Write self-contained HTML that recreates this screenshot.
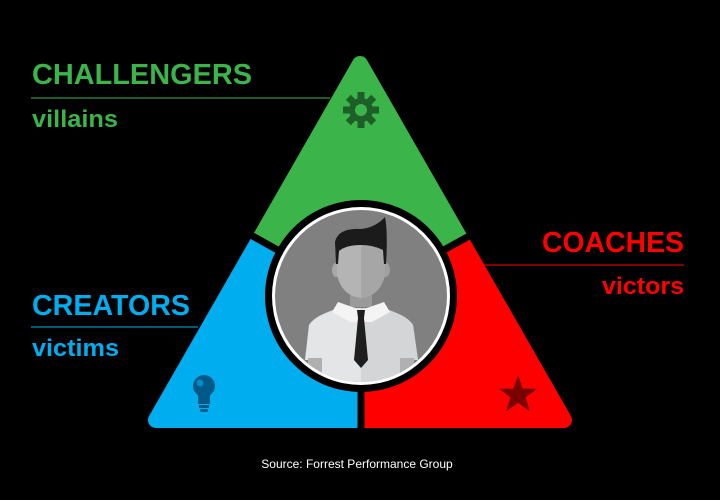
<!DOCTYPE html>
<html><head><style>html,body{margin:0;padding:0;background:#000;}svg{display:block}</style></head>
<body>
<svg width="720" height="500" viewBox="0 0 720 500" xmlns="http://www.w3.org/2000/svg" font-family="Liberation Sans, sans-serif">
<defs>
<clipPath id="cg"><polygon points="360,296 -64,60 -64,-100 784,-100 784,60"/></clipPath>
<clipPath id="cb"><polygon points="360,296 -64,60 -64,600 360,600"/></clipPath>
<clipPath id="cr"><polygon points="360,296 360,600 784,600 784,60"/></clipPath>
<clipPath id="cc"><circle cx="361" cy="296" r="86"/></clipPath>
</defs>
<rect width="720" height="500" fill="#000"/>
<g stroke-linejoin="round" stroke-width="16">
<polygon clip-path="url(#cg)" points="360,64 156,420 564,420" fill="#3bb54a" stroke="#3bb54a"/>
<polygon clip-path="url(#cb)" points="360,64 156,420 564,420" fill="#00aeef" stroke="#00aeef"/>
<polygon clip-path="url(#cr)" points="360,64 156,420 564,420" fill="#ff0000" stroke="#ff0000"/>
</g>
<g stroke="#000" stroke-width="7">
<line x1="360" y1="296" x2="240" y2="229"/>
<line x1="360" y1="296" x2="482" y2="229"/>
<line x1="361" y1="296" x2="361" y2="440"/>
</g>
<circle cx="361" cy="296" r="96" fill="#000"/>
<circle cx="361" cy="296" r="89" fill="#fff"/>
<circle cx="361" cy="296" r="86" fill="#808080"/>
<g clip-path="url(#cc)">
<path d="M309,325 Q315,315 340,308 L382,308 Q407,315 413,325 L418,360 L400,360 L400,400 L322,400 L322,360 L305,360 Z" fill="#e4e5e6"/>
<path d="M361,308 L382,308 Q407,315 413,325 L418,360 L400,360 L400,400 L361,400 Z" fill="#d4d5d6"/>
<rect x="308" y="358" width="14" height="40" fill="#b0b0b0"/>
<rect x="400" y="358" width="14" height="40" fill="#b0b0b0"/>
<path d="M350,285 L372,285 L372,307 L350,307 Z" fill="#9a9a9a"/>
<ellipse cx="336" cy="270" rx="4" ry="7" fill="#a8a8a8"/>
<ellipse cx="386" cy="270" rx="4" ry="7" fill="#a0a0a0"/>
<path d="M337,250 Q337,240 361,240 Q385,240 385,250 L385,275 Q380,296 361,298 Q342,296 337,275 Z" fill="#b4b4b4"/>
<path d="M361,240 Q385,240 385,250 L385,275 Q380,296 361,298 Z" fill="#a6a6a6"/>
<path d="M336,264 L335,242 Q338,228 360,229 Q375,228 385,217 Q388,232 386,264 L384,264 L383,250 Q373,245 361,245 Q346,245 339,251 L338,264 Z" fill="#1b1b1b"/>
<path d="M338,302 L361,310 L384,302 L390,312 L372,322 L350,322 L332,312 Z" fill="#f4f4f4"/>
<path d="M357,310 L365,310 L364,318 L368,360 L361,368 L354,360 L358,318 Z" fill="#1e1e1e"/>
</g>
<!-- gear -->
<g transform="translate(361,110)" fill="#1e5e28">
<circle r="12"/>
<g><rect x="-3.5" y="-18" width="7" height="36"/><rect x="-3.5" y="-18" width="7" height="36" transform="rotate(45)"/><rect x="-3.5" y="-18" width="7" height="36" transform="rotate(90)"/><rect x="-3.5" y="-18" width="7" height="36" transform="rotate(135)"/></g>
<circle r="6" fill="#3bb54a"/>
</g>
<!-- bulb -->
<g fill="#005a87">
<circle cx="204" cy="386" r="11"/>
<rect x="198" y="392" width="12" height="12"/>
<rect x="199" y="405" width="10" height="3"/>
<rect x="200" y="409" width="8" height="3" rx="1.5"/>
</g>
<circle cx="200" cy="383" r="3.5" fill="#00aeef" opacity="0.6"/>
<!-- star -->
<polygon transform="translate(518,395)" fill="#7a0000" points="0,-20 4.7,-6.5 19,-6.2 7.6,2.5 11.8,16.2 0,8 -11.8,16.2 -7.6,2.5 -19,-6.2 -4.7,-6.5"/>
<!-- labels -->
<text x="32" y="84" font-size="29" font-weight="bold" fill="#3bb54a" textLength="220" lengthAdjust="spacingAndGlyphs">CHALLENGERS</text>
<rect x="31" y="97.5" width="299" height="1" fill="#3bb54a"/>
<text x="32" y="127" font-size="24" font-weight="bold" fill="#3bb54a" textLength="86" lengthAdjust="spacingAndGlyphs">villains</text>
<text x="684" y="252" font-size="29" font-weight="bold" fill="#ff0000" text-anchor="end" textLength="142" lengthAdjust="spacingAndGlyphs">COACHES</text>
<rect x="480" y="264.5" width="204" height="1" fill="#ff0000"/>
<text x="684" y="294" font-size="24" font-weight="bold" fill="#ff0000" text-anchor="end" textLength="82" lengthAdjust="spacingAndGlyphs">victors</text>
<text x="32" y="315" font-size="29" font-weight="bold" fill="#00aeef" textLength="158" lengthAdjust="spacingAndGlyphs">CREATORS</text>
<rect x="31" y="326.5" width="167" height="1" fill="#00aeef"/>
<text x="32" y="356" font-size="24" font-weight="bold" fill="#00aeef" textLength="87" lengthAdjust="spacingAndGlyphs">victims</text>
<text x="357" y="468" font-size="12" fill="#fff" text-anchor="middle">Source: Forrest Performance Group</text>
</svg>
</body></html>
